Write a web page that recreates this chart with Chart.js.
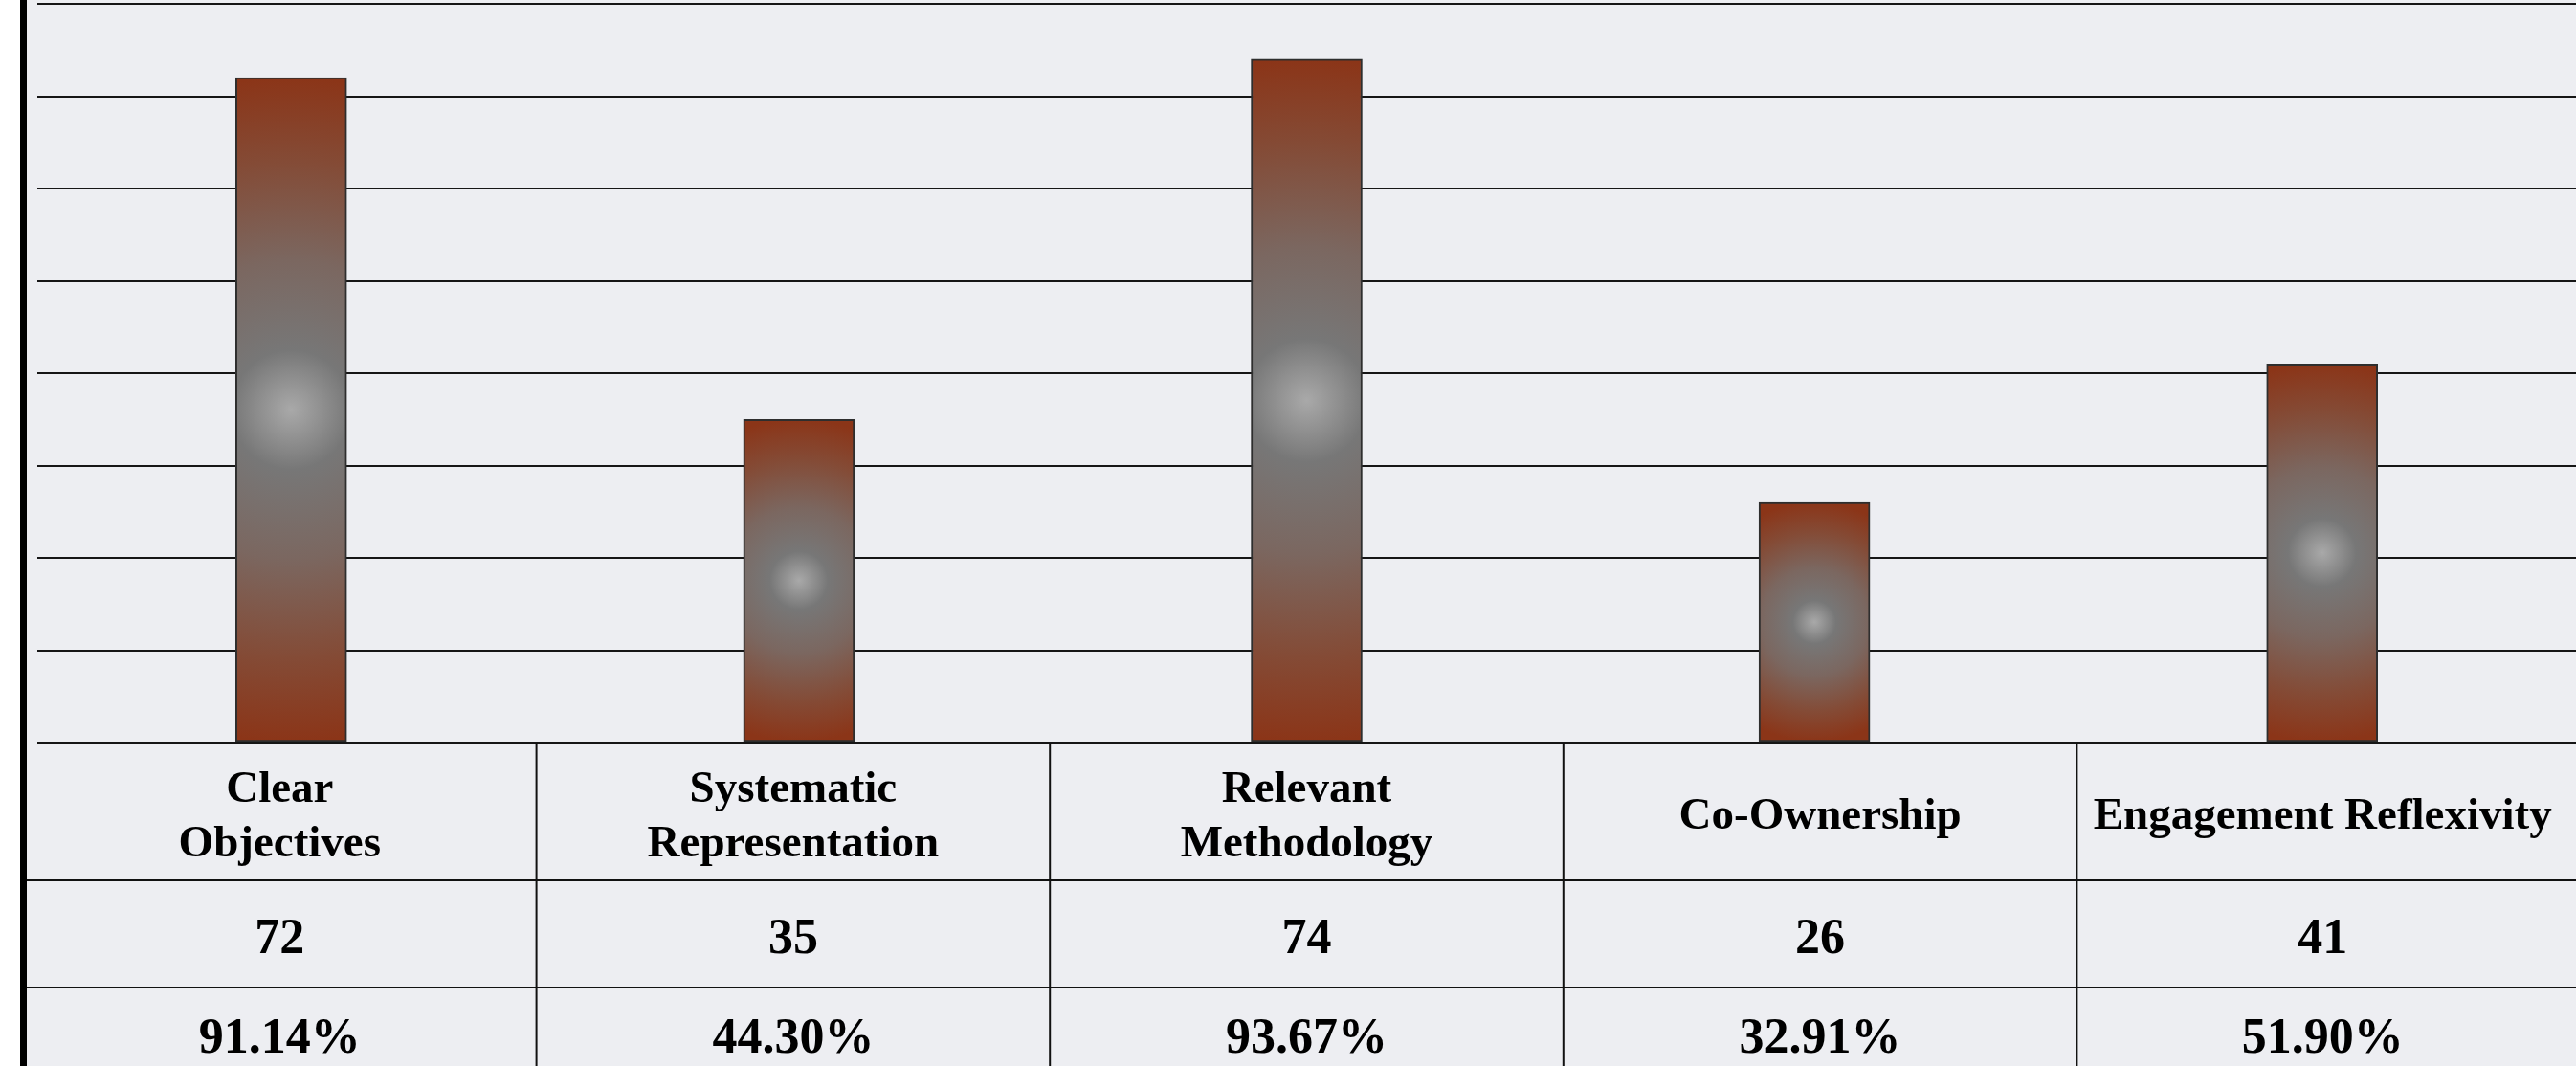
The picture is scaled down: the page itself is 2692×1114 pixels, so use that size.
<!DOCTYPE html>
<html lang="en">
<head>
    <meta charset="UTF-8">
    <title>Criteria</title>
    <style>
        body { margin: 0; background: #ffffff; overflow: hidden; }
        .chart-container { position: relative; width: 2692px; height: 1114px; }
    </style>
</head>
<body>
    <div class="chart-container"><canvas id="criteriaChart"></canvas></div>

    <script src="https://cdn.jsdelivr.net/npm/chart.js"></script>
    <script>
        // data
        const categories = [['Clear', 'Objectives'], ['Systematic', 'Representation'], ['Relevant', 'Methodology'], ['Co-Ownership'], ['Engagement Reflexivity']];
        const counts = [72, 35, 74, 26, 41];
        const percents = ['91.14%', '44.30%', '93.67%', '32.91%', '51.90%'];
        const yTicks = { min: 0, max: 80, step: 10 };

        const BG = '#edeef2';
        const RUST = '#8b3518';
        const TEXT_FONT = '"Liberation Serif", "Times New Roman", serif';

        // radial glow from the middle of a bar, grey -> rust
        function glow(ctx, cx, top, base) {
            const cy = (top + base) / 2;
            const r = Math.abs(base - top) / 2;
            if (![cx, cy, r].every(Number.isFinite) || r <= 0) return RUST;
            const g = ctx.createRadialGradient(cx, cy, 0, cx, cy, r);
            g.addColorStop(0, '#a9a9a9');
            g.addColorStop(0.18, '#777777');
            g.addColorStop(0.45, '#7b6760');
            g.addColorStop(0.75, '#844b36');
            g.addColorStop(1, RUST);
            return g;
        }

        // scriptable so every bar gets its own options object
        function barFill(context) {
            const chart = context.chart;
            const x = chart.scales.x, y = chart.scales.y;
            if (!x || !y || context.dataIndex === undefined) return RUST;
            const v = context.dataset.data[context.dataIndex];
            return glow(chart.ctx, x.getPixelForValue(context.dataIndex), y.getPixelForValue(v), y.getPixelForValue(0));
        }

        const barGlow = {
            id: 'barGlow',
            beforeDatasetsDraw(chart) {
                chart.getDatasetMeta(0).data.forEach(el => {
                    el.options.backgroundColor = glow(chart.ctx, el.x, el.y, el.base);
                });
            }
        };

        const backdrop = {
            id: 'backdrop',
            beforeDraw(chart) {
                const ctx = chart.ctx;
                ctx.save();
                ctx.fillStyle = '#ffffff';
                ctx.fillRect(0, 0, chart.width, chart.height);
                ctx.fillStyle = BG;
                ctx.fillRect(28, 0, chart.width - 28, chart.height);
                ctx.restore();
            }
        };

        // table of labels / counts / percentages under the bars
        const dataTable = {
            id: 'dataTable',
            afterDraw(chart) {
                const ctx = chart.ctx;
                const area = chart.chartArea;
                const xs = chart.scales.x;
                const step = xs.getPixelForValue(1) - xs.getPixelForValue(0);
                const colW = step + 6;
                const left = area.left - 15;
                const top = area.bottom;
                const rows = [top + 144, top + 256];

                ctx.save();
                ctx.strokeStyle = '#111111';
                ctx.lineWidth = 2;
                rows.forEach(ry => {
                    ctx.beginPath();
                    ctx.moveTo(28, ry);
                    ctx.lineTo(chart.width, ry);
                    ctx.stroke();
                });
                for (let i = 1; i < categories.length; i++) {
                    const lx = left + colW * i;
                    ctx.beginPath();
                    ctx.moveTo(lx, top);
                    ctx.lineTo(lx, chart.height);
                    ctx.stroke();
                }

                ctx.fillStyle = '#000000';
                ctx.textAlign = 'center';
                ctx.textBaseline = 'alphabetic';
                categories.forEach((lines, i) => {
                    const l = left + colW * i;
                    const r = Math.min(l + colW, chart.width - 8);
                    const cx = (l + r) / 2;
                    ctx.font = 'bold 47px ' + TEXT_FONT;
                    if (lines.length === 2) {
                        ctx.fillText(lines[0], cx, top + 62);
                        ctx.fillText(lines[1], cx, top + 119);
                    } else {
                        ctx.fillText(lines[0], cx, top + 90);
                    }
                    ctx.font = 'bold 52px ' + TEXT_FONT;
                    ctx.fillText(String(counts[i]), cx, top + 220);
                    ctx.fillText(percents[i], cx, top + 324);
                });

                // thick left border
                ctx.fillStyle = '#000000';
                ctx.fillRect(21, 0, 7, chart.height);
                ctx.restore();
            }
        };

        const chart = new Chart(document.getElementById('criteriaChart').getContext('2d'), {
            type: 'bar',
            data: {
                labels: categories,
                datasets: [{
                    label: 'Count',
                    data: counts,
                    backgroundColor: barFill,
                    borderColor: '#2e2e2e',
                    borderWidth: 2,
                    borderSkipped: false,
                    barThickness: 116
                }]
            },
            options: {
                responsive: true,
                maintainAspectRatio: false,
                animation: false,
                layout: { padding: { left: 39, top: 4, right: 0, bottom: 338 } },
                plugins: { legend: { display: false }, tooltip: { enabled: false } },
                scales: {
                    x: {
                        grid: { display: false, drawTicks: false },
                        border: { display: false },
                        ticks: { display: false }
                    },
                    y: {
                        min: yTicks.min,
                        max: yTicks.max,
                        grid: { color: '#161616', lineWidth: 2, drawTicks: false },
                        border: { display: false },
                        ticks: { display: false, stepSize: yTicks.step }
                    }
                }
            },
            plugins: [backdrop, barGlow, dataTable]
        });
    </script>
</body>
</html>
